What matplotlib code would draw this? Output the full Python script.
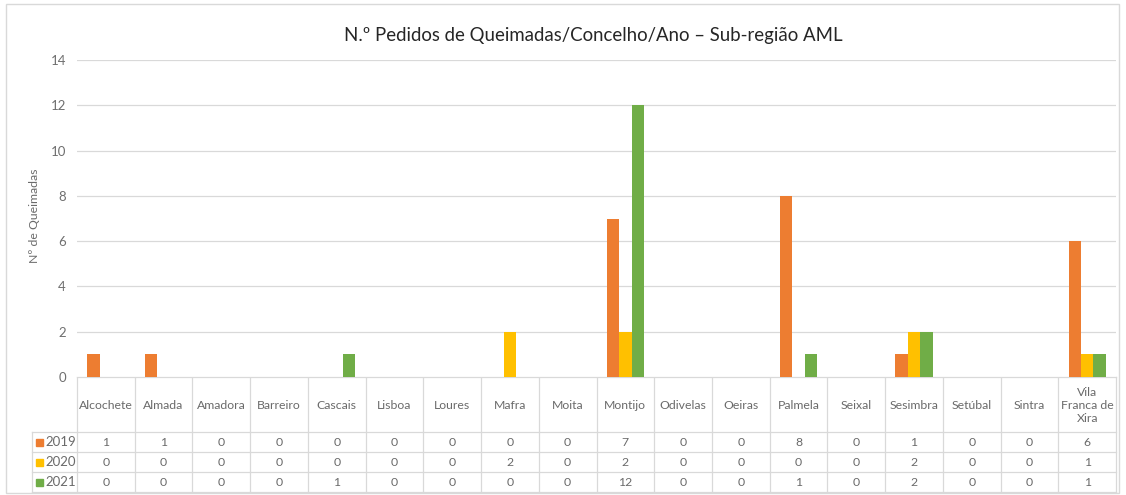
import matplotlib
matplotlib.use("Agg")
import matplotlib.pyplot as plt
import numpy as np
from matplotlib.patches import Rectangle

# ---------------- data ----------------
concelhos = ["Alcochete", "Almada", "Amadora", "Barreiro", "Cascais", "Lisboa",
             "Loures", "Mafra", "Moita", "Montijo", "Odivelas", "Oeiras",
             "Palmela", "Seixal", "Sesimbra", "Setúbal", "Sintra",
             "Vila\nFranca de\nXira"]
anos = ["2019", "2020", "2021"]
v2019 = [1, 1, 0, 0, 0, 0, 0, 0, 0, 7, 0, 0, 8, 0, 1, 0, 0, 6]
v2020 = [0, 0, 0, 0, 0, 0, 0, 2, 0, 2, 0, 0, 0, 0, 2, 0, 0, 1]
v2021 = [0, 0, 0, 0, 1, 0, 0, 0, 0, 12, 0, 0, 1, 0, 2, 0, 0, 1]
series = [v2019, v2020, v2021]
cores = ["#ED7D31", "#FFC000", "#70AD47"]
yticks = [0, 2, 4, 6, 8, 10, 12, 14]
titulo = "N.º Pedidos de Queimadas/Concelho/Ano – Sub-região AML"
ylabel = "Nº de Queimadas"

plt.rcParams['font.family'] = ['Lato', 'DejaVu Sans']

W, H = 1126, 495
fig = plt.figure(figsize=(W / 100, H / 100), dpi=100)

# plot-area geometry (pixels)
PL, PR, PT, PB = 77, 1116, 60, 377
ax = fig.add_axes([PL / W, 1 - PB / H, (PR - PL) / W, (PB - PT) / H])
n = len(concelhos)
x = np.arange(n) + 0.5
bw = 0.214
for k, (vals, c) in enumerate(zip(series, cores)):
    ax.bar(x + (k - 1) * bw, vals, width=bw, color=c, zorder=3)
ax.set_xlim(0, n)
ax.set_ylim(0, 14)
ax.set_yticks(yticks)
ax.set_xticks([])
ax.grid(axis='y', color='#D9D9D9', lw=0.9, zorder=0)
for s in ax.spines.values():
    s.set_visible(False)
ax.tick_params(axis='y', length=0, colors='#6F6F6F', labelsize=9.5, pad=8)

# overlay axes in pixel coordinates for table / frame
ov = fig.add_axes([0, 0, 1, 1], zorder=-1)
ov.set_xlim(0, W)
ov.set_ylim(H, 0)
ov.axis('off')

gc = '#D9D9D9'
tc = '#6A6A6A'
ov.add_patch(Rectangle((6, 4), 1113, 489, fill=False, ec=gc, lw=1))

cw = (PR - PL) / n
hb = 432          # header bottom
rh = 20           # row height
# horizontal lines
ov.plot([PL, PR], [PB, PB], color=gc, lw=0.9)
for r in range(len(anos) + 1):
    yy = hb + r * rh
    ov.plot([32, PR], [yy, yy], color=gc, lw=0.9)
# vertical lines
for i in range(n + 1):
    xx = PL + i * cw
    ov.plot([xx, xx], [PB, hb + len(anos) * rh], color=gc, lw=0.9)
ov.plot([32, 32], [hb, hb + len(anos) * rh], color=gc, lw=0.9)

# header labels
for i, name in enumerate(concelhos):
    ov.text(PL + (i + 0.5) * cw, (PB + hb) / 2 + 1, name, ha='center', va='center',
            fontsize=8.8, color=tc, linespacing=1.2)

# rows
for r, (ano, vals, c) in enumerate(zip(anos, series, cores)):
    yc = hb + (r + 0.5) * rh
    ov.add_patch(Rectangle((36, yc - 3.5), 7, 7, color=c))
    ov.text(45, yc, ano, ha='left', va='center', fontsize=9.5, color=tc)
    for i, v in enumerate(vals):
        ov.text(PL + (i + 0.5) * cw, yc, str(v), ha='center', va='center',
                fontsize=8.8, color=tc)

# title and y label
fig.text(593 / W, 1 - 35 / H, titulo, ha='center', va='center', fontsize=13.4,
         color='#262626')
fig.text(35 / W, 1 - 216 / H, ylabel, ha='center', va='center', rotation=90,
         fontsize=8.8, color=tc)

fig.savefig('out.png', dpi=100)
